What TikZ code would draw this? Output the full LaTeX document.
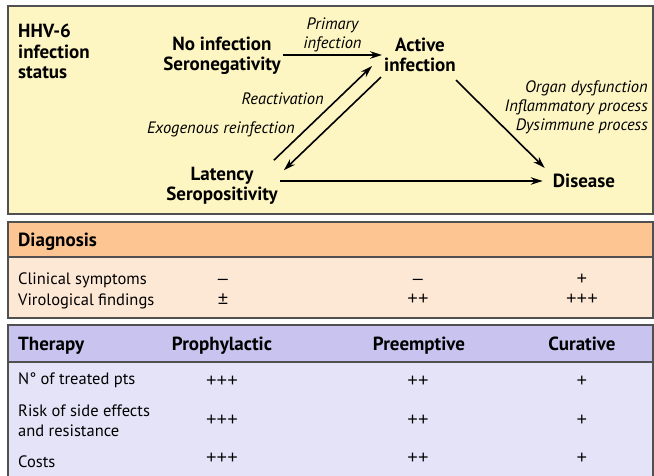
\documentclass[tikz,border=0pt]{standalone}
\usepackage{fontspec}
\setmainfont{PT Sans}
\newfontfamily\signfont{Liberation Sans}
\usetikzlibrary{arrows.meta,positioning}
\definecolor{statusbg}{HTML}{FDF5C2}
\definecolor{diaghead}{HTML}{FCC592}
\definecolor{diagbody}{HTML}{FDE7D5}
\definecolor{therhead}{HTML}{C9C4EF}
\definecolor{therbody}{HTML}{E5E3F7}
\definecolor{frame}{HTML}{505050}
\begin{document}
\begin{tikzpicture}[x=1pt, y=-1pt, >={Stealth[length=12pt,width=7.5pt]},
  arr/.style={->, line width=1.6pt},
  state/.style={font=\fontsize{19}{20}\selectfont\bfseries, align=center, inner sep=2pt},
  note/.style={font=\fontsize{16.5}{19}\selectfont\itshape, inner sep=1pt},
  row/.style={font=\fontsize{16.5}{20}\selectfont, anchor=west, inner sep=0pt, align=left},
  head/.style={font=\fontsize{19}{20.5}\selectfont\bfseries, inner sep=0pt},
  colhead/.style={head, text height=10pt, text depth=3pt},
  val/.style={font=\signfont\fontsize{18}{18}\selectfont, inner sep=0pt, text height=9pt, text depth=3pt},
  panel/.style={draw=frame, line width=1.2pt}]
  \tikzstyle{every node}=[text=black]

  \useasboundingbox (0,0) rectangle (654,476);

  % panels
  \path[panel, fill=statusbg] (8,6) rectangle (653,214);
  \path[panel, fill=diagbody] (8,222) rectangle (653,318);
  \path[panel, fill=diaghead] (8,222) rectangle (653,257);
  \path[panel, fill=therbody] (8,325) rectangle (653,490);
  \path[panel, fill=therhead] (8,325) rectangle (653,362);

  % infection status
  \node[head, anchor=north west, align=left] (status) at (18,24) {HHV-6\\infection\\status};
  \node[state] (noinf) at (222,56) {No infection\\Seronegativity};
  \node[state] (act) at (420,55) {Active\\infection};
  \node[state] (lat) at (222,186) {Latency\\Seropositivity};
  \node[state] (dis) at (584,181) {Disease};

  \draw[arr] (noinf.east |- act.west) -- node[note, above=1pt, align=center] {Primary\\infection} (act.west);
  \draw[arr] ([shift={(-6,-5)}]lat.north east) -- ([shift={(-10,-8)}]act.south west);
  \draw[arr] ([shift={(-1,3)}]act.south west) -- ([shift={(4,5)}]lat.north east);
  \draw[arr, shorten >=8pt] (lat.east |- dis.west) -- (dis.west);
  \draw[arr] ([shift={(-2,6)}]act.south east) -- ([shift={(-6,-4)}]dis.north west);

  \node[note, anchor=east] (react) at (325,99) {Reactivation};
  \node[note, anchor=east] (exo) at (296,129) {Exogenous reinfection};
  \node[note, anchor=east, align=right] (organ) at (649,107) {Organ dysfunction\\Inflammatory process\\Dysimmune process};

  % diagnosis
  \node[colhead, anchor=west] (diag) at (18,243) {Diagnosis};
  \node[row] (clin) at (18,280) {Clinical symptoms};
  \node[row] (viro) at (18,301) {Virological findings};
  \node[val] (clin-pro) at (223,281) {\textendash};
  \node[val] (clin-pre) at (418,281) {\textendash};
  \node[val] (clin-cur) at (582,281) {+};
  \node[val] (viro-pro) at (223,301) {±};
  \node[val] (viro-pre) at (418,301) {++};
  \node[val] (viro-cur) at (582,301) {+++};

  % therapy
  \node[colhead, anchor=west] (ther) at (18,347) {Therapy};
  \node[colhead] (pro) at (222,347) {Prophylactic};
  \node[colhead] (pre) at (419,347) {Preemptive};
  \node[colhead] (cur) at (582,347) {Curative};
  \node[row] (pts) at (18,380) {N° of treated pts};
  \node[row] (risk) at (18,421) {Risk of side effects\\and resistance};
  \node[row] (cost) at (18,462) {Costs};
  \foreach \y/\n in {383/pts, 422/risk, 460/cost} {
    \node[val] (\n-pro) at (222,\y) {+++};
    \node[val] (\n-pre) at (418,\y) {++};
    \node[val] (\n-cur) at (582,\y) {+};
  }
\end{tikzpicture}
\end{document}
